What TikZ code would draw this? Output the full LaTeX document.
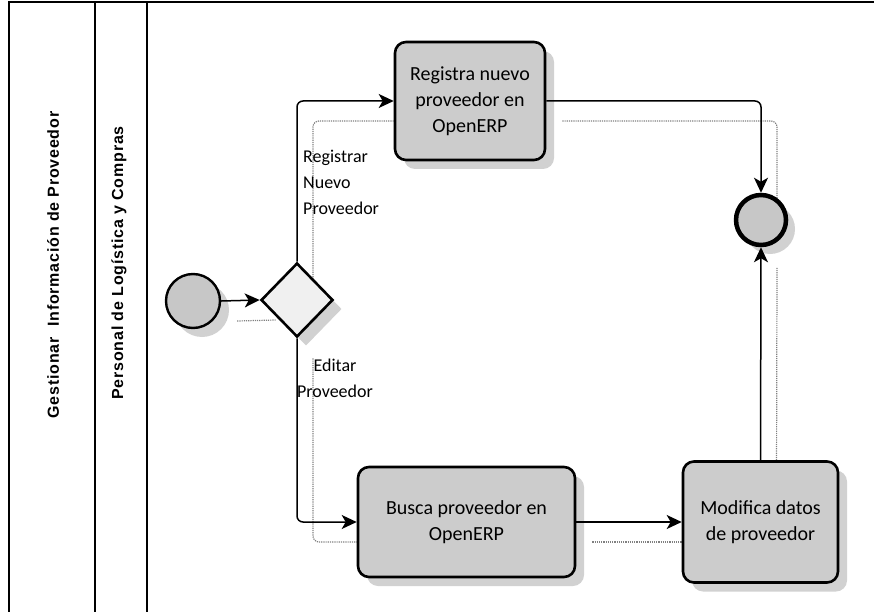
\documentclass[tikz,border=0pt]{standalone}
\usepackage{fontspec}
\setmainfont{Carlito}
\newfontfamily\lanefont[LetterSpace=5.0]{Liberation Sans}
\usetikzlibrary{shapes.geometric,arrows.meta,shadows,backgrounds}

\tikzset{
  frameline/.style={line width=2pt},
  boxshadow/.style={drop shadow={shadow xshift=9pt, shadow yshift=-9pt, fill=black!18, opacity=1}},
  taskbox/.style={draw, line width=2.6pt, rounded corners=11pt, fill=black!20,
    align=center, inner sep=4pt, font=\fontsize{20}{26}\selectfont, boxshadow},
  startev/.style={draw, circle, line width=2.4pt, fill=black!22, minimum size=54pt, inner sep=0pt, boxshadow},
  endev/.style={draw, circle, line width=4.5pt, fill=black!22, minimum size=50pt, inner sep=0pt, boxshadow},
  gate/.style={draw, diamond, line width=2.6pt, fill=black!6, minimum width=72pt, minimum height=74pt, inner sep=0pt, boxshadow},
  flow/.style={line width=1.5pt, rounded corners=6pt, -{Stealth[length=15pt,width=14pt,inset=4pt]}},
  flowshadow/.style={densely dotted, line width=1.2pt, black!50, rounded corners=6pt,
    transform canvas={xshift=16pt, yshift=-20pt}},
  lanetext/.style={rotate=90, font=\lanefont\bfseries\fontsize{16}{19}\selectfont},
  flowlabel/.style={font=\fontsize{18}{26}\selectfont, inner sep=0pt}
}

\begin{document}
\begin{tikzpicture}[x=1pt, y=-1pt]
  \useasboundingbox (0,0) rectangle (874,612);

  % pool and lane frame
  \draw[frameline] (874,2) -- (9,2) -- (9,612);
  \draw[frameline] (95,2) -- (95,612);
  \draw[frameline] (147,2) -- (147,612);
  \node[lanetext] (pool) at (53,265) {Gestionar\ \ Información de Proveedor};
  \node[lanetext] (lane) at (119,263) {Personal de Logística y Compras};

  % events, gateway and tasks
  \node[startev] (start) at (193,301) {};
  \node[gate] (gw) at (297,300) {};
  \node[taskbox, minimum width=150pt, minimum height=118pt] (t1) at (470,101)
    {Registra nuevo\\proveedor en\\OpenERP};
  \node[taskbox, minimum width=217pt, minimum height=110pt] (t2) at (466.5,522)
    {Busca proveedor en\\OpenERP};
  \node[taskbox, minimum width=155pt, minimum height=121pt] (t3) at (760.5,522)
    {Modifica datos\\de proveedor};
  \node[endev] (end) at (761,220) {};

  % dotted shadows of the sequence flows, behind the shapes
  \begin{scope}[on background layer]
    \draw[flowshadow] (start.east) -- (gw.west);
    \draw[flowshadow] (gw.north) |- (t1.west);
    \draw[flowshadow] (gw.south) |- (t2.west);
    \draw[flowshadow] (t2.east) -- (t3.west);
    \draw[flowshadow] (t1.east) -| (end.north);
    \draw[flowshadow] (t3.north) -- (end.south);
  \end{scope}

  % sequence flows
  \draw[flow] (start.east) -- (gw.west);
  \draw[flow] (gw.north) |- (t1.west);
  \draw[flow] (gw.south) |- (t2.west);
  \draw[flow] (t2.east) -- (t3.west);
  \draw[flow] (t1.east) -| (end.north);
  \draw[flow] (t3.north) -- (end.south);

  % gateway branch labels
  \node[flowlabel, anchor=north west, align=left] (lblnew) at (303,150)
    {Registrar\\Nuevo\\Proveedor};
  \node[flowlabel, anchor=north, align=center] (lbledit) at (335,359)
    {Editar\\Proveedor};
\end{tikzpicture}
\end{document}
